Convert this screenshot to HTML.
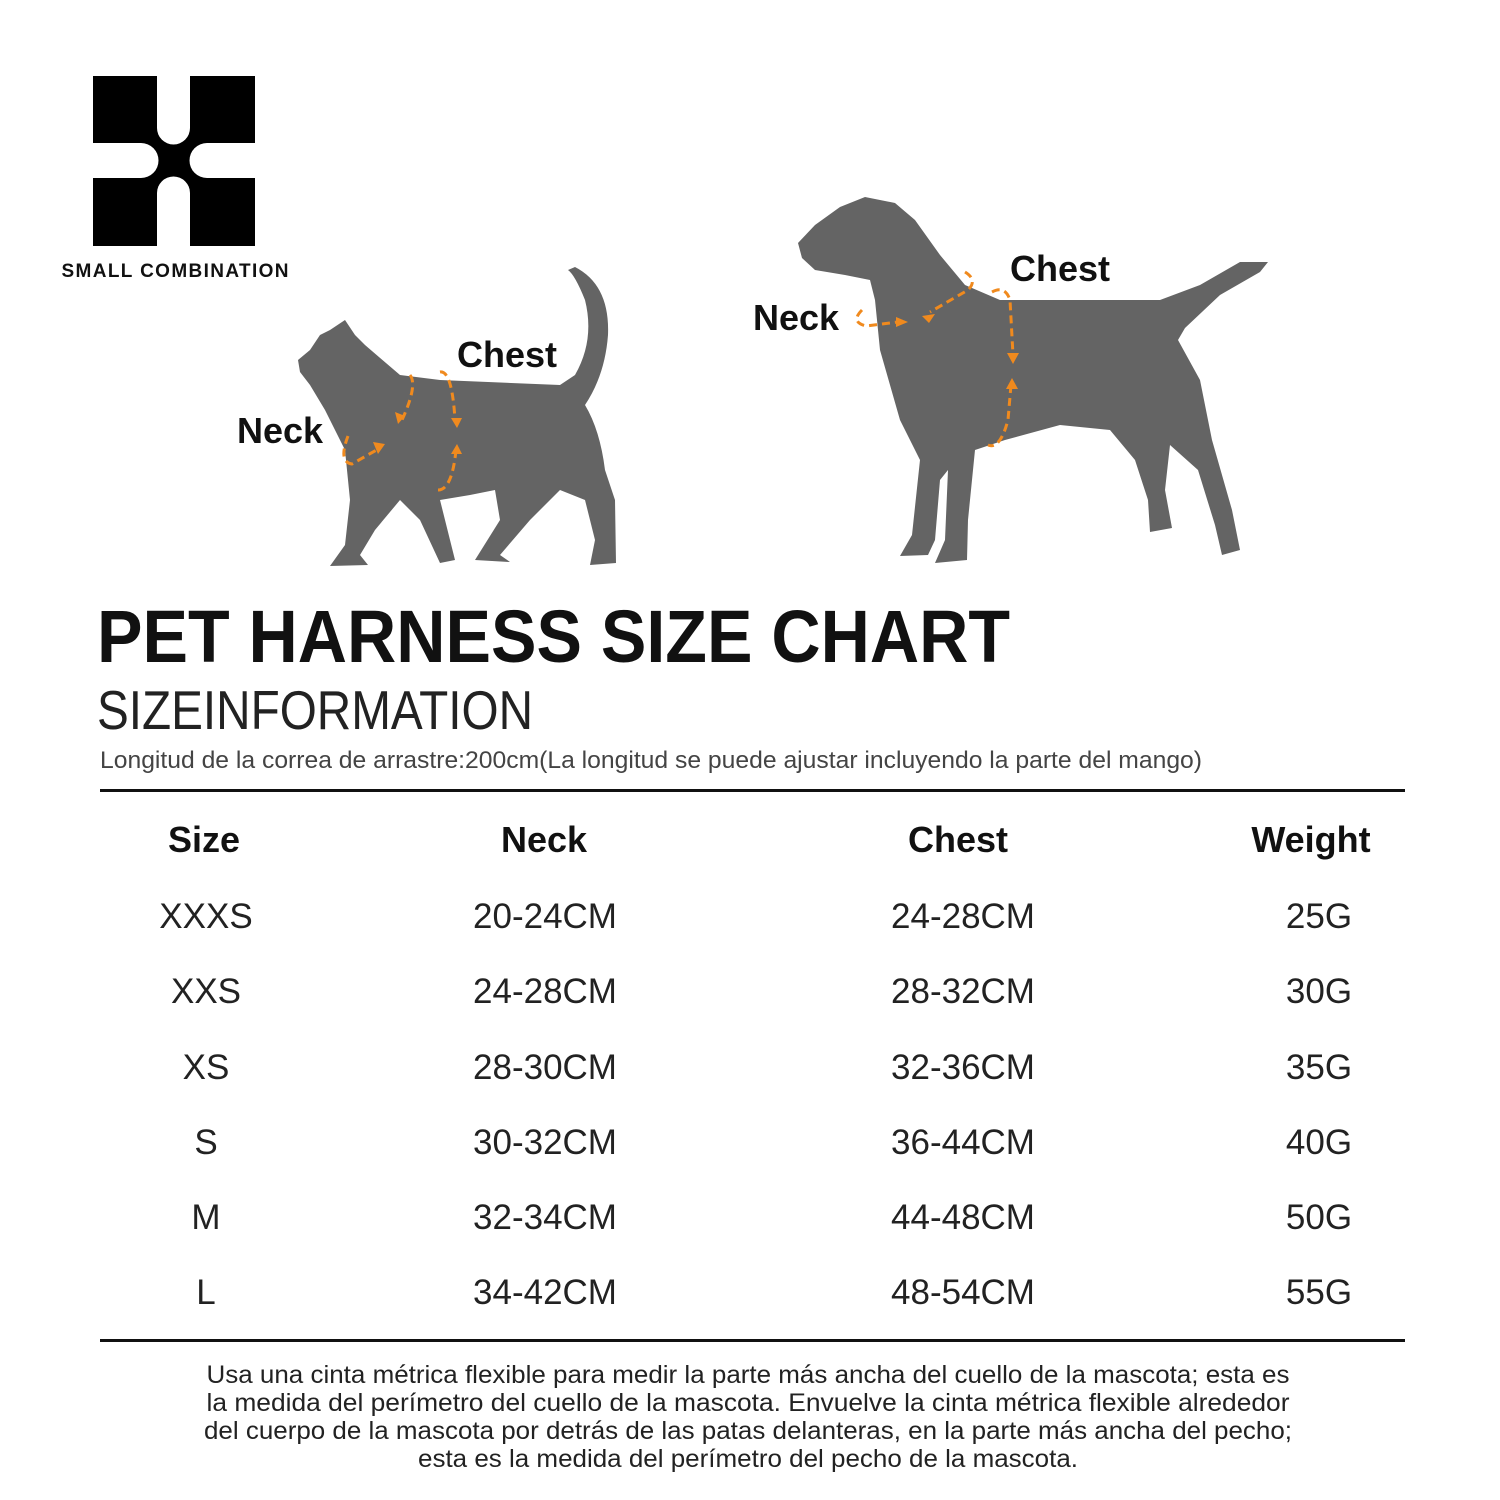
<!DOCTYPE html>
<html><head><meta charset="utf-8"><style>
html,body{margin:0;padding:0;background:#fff;}
svg{display:block;}
text{font-family:"Liberation Sans",sans-serif;}
</style></head><body>
<svg width="1500" height="1500" viewBox="0 0 1500 1500" xmlns="http://www.w3.org/2000/svg">
<rect width="1500" height="1500" fill="#fff"/>
<!-- logo -->
<rect x="93" y="76" width="162" height="170" fill="#000"/>
<rect x="157" y="76" width="33" height="52" fill="#fff"/>
<circle cx="173.5" cy="128" r="16.5" fill="#fff"/>
<rect x="157" y="193" width="33" height="53" fill="#fff"/>
<circle cx="173.5" cy="193" r="16.5" fill="#fff"/>
<rect x="93" y="143" width="48" height="35" fill="#fff"/>
<circle cx="141" cy="160.5" r="17.5" fill="#fff"/>
<rect x="207" y="143" width="48" height="35" fill="#fff"/>
<circle cx="207" cy="160.5" r="17.5" fill="#fff"/>
<text x="175" y="277" font-size="19" font-weight="bold" text-anchor="middle" textLength="227" fill="#111">SMALL COMBINATION</text>

<!-- cat -->
<path fill="#646464" d="M330,330 L345,320 L355,335 L365,345 L400,375 L440,380 L560,385 L575,375 Q595,340 585,300 Q575,275 568,270 L575,267 Q610,285 608,335 Q605,375 585,405 Q600,430 605,470 L615,500 L616,563 L590,565 L595,540 L585,500 L560,490 L530,520 L500,555 L510,562 L475,560 L500,520 L495,490 L470,495 L440,500 L455,560 L440,563 L420,520 L400,500 L375,530 L360,555 L368,565 L330,566 L345,545 L350,500 L345,450 L325,410 L310,385 L300,372 L298,360 L310,350 L320,335 Z"/>
<path fill="none" stroke="#f08a1e" stroke-width="3" stroke-dasharray="8,5" d="M348,436 Q338,462 352,464 L380,448 M410,375 Q418,385 402,420 M440,372 Q452,370 455,420 M456,450 Q452,490 438,490"/>
<path fill="#f08a1e" d="M385,444 l-12,-2 l5,12z M398,424 l-3,-12 l10,4z M457,428 l-6,-10 l11,0z M457,444 l-6,10 l11,0z"/>
<text x="237" y="443" font-size="36" font-weight="bold" fill="#111">Neck</text>
<text x="457" y="367" font-size="36" font-weight="bold" fill="#111">Chest</text>

<!-- dog -->
<path fill="#646464" d="M798,243 L815,225 L840,207 L865,197 L895,203 L915,220 L940,255 L965,285 L1000,300 L1160,300 L1200,285 L1240,262 L1268,262 L1260,272 L1220,295 L1185,328 L1178,340 L1200,380 L1212,440 L1232,510 L1240,550 L1222,555 L1215,525 L1198,470 L1170,445 L1165,490 L1172,528 L1150,532 L1148,500 L1135,460 L1110,430 L1060,425 L1005,440 L975,450 L968,520 L967,560 L935,563 L945,540 L948,470 L940,480 L935,540 L928,555 L900,556 L912,535 L920,460 L900,420 L880,350 L875,300 L870,280 L845,275 L815,270 L802,258 Z"/>
<path fill="none" stroke="#f08a1e" stroke-width="3" stroke-dasharray="8,5" d="M862,310 Q850,322 866,326 L898,322 M965,272 Q978,280 968,290 L930,312 M992,292 Q1005,285 1010,300 L1013,355 M1011,385 L1008,420 Q1000,450 988,445"/>
<path fill="#f08a1e" d="M908,322 l-12,-5 l0,10z M922,316 l13,-2 l-6,9z M1013,364 l-6,-11 l12,0z M1012,378 l-6,11 l12,0z"/>
<text x="753" y="330" font-size="36" font-weight="bold" fill="#111">Neck</text>
<text x="1010" y="281" font-size="36" font-weight="bold" fill="#111">Chest</text>

<!-- titles -->
<text x="97" y="662" font-size="74" font-weight="bold" textLength="913" lengthAdjust="spacingAndGlyphs" fill="#111">PET HARNESS SIZE CHART</text>
<text x="97" y="729" font-size="55" textLength="436" lengthAdjust="spacingAndGlyphs" fill="#222">SIZEINFORMATION</text>
<text x="100" y="768" font-size="24" textLength="1102" lengthAdjust="spacingAndGlyphs" fill="#444">Longitud de la correa de arrastre:200cm(La longitud se puede ajustar incluyendo la parte del mango)</text>
<rect x="100" y="789" width="1305" height="3" fill="#111"/>
<rect x="100" y="1339" width="1305" height="3" fill="#111"/>

<g font-size="36" font-weight="bold" fill="#111" text-anchor="middle">
<text x="204" y="852">Size</text><text x="544" y="852">Neck</text><text x="958" y="852">Chest</text><text x="1311" y="852">Weight</text>
</g>
<g font-size="35" fill="#222" text-anchor="middle">
<text x="206" y="928">XXXS</text><text x="545" y="928">20-24CM</text><text x="963" y="928">24-28CM</text><text x="1319" y="928">25G</text>
<text x="206" y="1003">XXS</text><text x="545" y="1003">24-28CM</text><text x="963" y="1003">28-32CM</text><text x="1319" y="1003">30G</text>
<text x="206" y="1079">XS</text><text x="545" y="1079">28-30CM</text><text x="963" y="1079">32-36CM</text><text x="1319" y="1079">35G</text>
<text x="206" y="1154">S</text><text x="545" y="1154">30-32CM</text><text x="963" y="1154">36-44CM</text><text x="1319" y="1154">40G</text>
<text x="206" y="1229">M</text><text x="545" y="1229">32-34CM</text><text x="963" y="1229">44-48CM</text><text x="1319" y="1229">50G</text>
<text x="206" y="1304">L</text><text x="545" y="1304">34-42CM</text><text x="963" y="1304">48-54CM</text><text x="1319" y="1304">55G</text>
</g>
<g font-size="25" fill="#222" text-anchor="middle">
<text x="748" y="1383" textLength="1083" lengthAdjust="spacingAndGlyphs">Usa una cinta métrica flexible para medir la parte más ancha del cuello de la mascota; esta es</text>
<text x="748" y="1411" textLength="1083" lengthAdjust="spacingAndGlyphs">la medida del perímetro del cuello de la mascota. Envuelve la cinta métrica flexible alrededor</text>
<text x="748" y="1439" textLength="1088" lengthAdjust="spacingAndGlyphs">del cuerpo de la mascota por detrás de las patas delanteras, en la parte más ancha del pecho;</text>
<text x="748" y="1467" textLength="660" lengthAdjust="spacingAndGlyphs">esta es la medida del perímetro del pecho de la mascota.</text>
</g>
</svg>
</body></html>
